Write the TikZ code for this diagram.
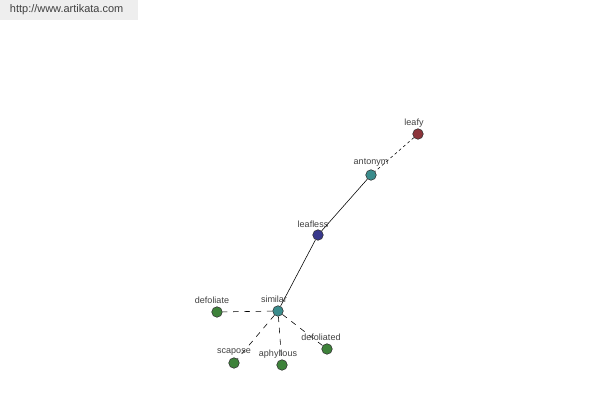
\documentclass[tikz,border=0pt]{standalone}
\usepackage{fontspec}
\setmainfont{Liberation Sans}
\usepackage{xcolor}
\definecolor{akred}{RGB}{140,52,58}
\definecolor{akteal}{RGB}{58,140,140}
\definecolor{akblue}{RGB}{56,56,140}
\definecolor{akgreen}{RGB}{62,130,58}
\definecolor{akgray}{RGB}{238,238,238}
\definecolor{aktext}{RGB}{64,64,64}
\usetikzlibrary{positioning}
\tikzset{
  word/.style={circle, draw=black!80, line width=0.4pt, inner sep=0pt, minimum size=7.5pt},
  lbl/.style={font=\fontsize{6.4}{7}\selectfont, text=aktext, inner sep=0pt},
  near/.style={draw=black, line width=0.4pt},
  far/.style={draw=black, line width=0.4pt, dash pattern=on 2pt off 2pt},
  sim/.style={draw=black, line width=0.4pt, dash pattern=on 4pt off 4pt}
}

\begin{document}
\begin{tikzpicture}[x=0.025cm, y=-0.025cm]
  \useasboundingbox (0,0) rectangle (600,400);
  \fill[akgray] (0,0) rectangle (138,20);
  \node[font=\fontsize{7.8}{8}\selectfont, text=aktext, anchor=west] (site) at (5,10) {http://www.artikata.com};
  % nodes
  \node[word, fill=akred] (leafy) at (418,134) {};
  \node[word, fill=akteal] (antonym) at (371,175) {};
  \node[word, fill=akblue] (leafless) at (318,235) {};
  \node[word, fill=akteal] (similar) at (278,311) {};
  \node[word, fill=akgreen] (defoliate) at (217,312) {};
  \node[word, fill=akgreen] (scapose) at (234,363) {};
  \node[word, fill=akgreen] (aphyllous) at (282,365) {};
  \node[word, fill=akgreen] (defoliated) at (327,349) {};
  % links
  \draw[far] (leafy) -- (antonym);
  \draw[near] (antonym) -- (leafless);
  \draw[near] (leafless) -- (similar);
  \draw[sim] (similar) -- (defoliate);
  \draw[sim] (similar) -- (scapose);
  \draw[sim] (similar) -- (aphyllous);
  \draw[sim] (similar) -- (defoliated);
  % labels
  \node[lbl] (leafy-t) at (414,123) {leafy};
  \node[lbl] (antonym-t) at (371,163) {antonym};
  \node[lbl] (leafless-t) at (313,224) {leafless};
  \node[lbl] (similar-t) at (274,299) {similar};
  \node[lbl] (defoliate-t) at (212,300) {defoliate};
  \node[lbl] (scapose-t) at (234,352) {scapose};
  \node[lbl] (aphyllous-t) at (278,354) {aphyllous};
  \node[lbl] (defoliated-t) at (321,337) {defoliated};
\end{tikzpicture}
\end{document}
